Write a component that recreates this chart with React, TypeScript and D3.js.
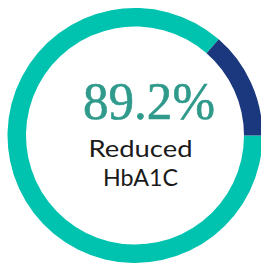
import React from "react";
import * as d3 from "d3";

// ring shares (teal runs clockwise from 3 o'clock)
const segments = ["Reduced", "Other"];
const shares = [86.4, 13.6];
const colors = ["#00c3af", "#1b377d"];

const headline = "89.2%";
const captionLines = ["Reduced", "HbA1C"];

const W = 261;
const H = 264;

const App = () => {
  const cx = 135;
  const cy = 135.5;
  const outerR = 127.5;
  const innerR = 109;

  const pie = d3
    .pie<number>()
    .sort(null)
    .startAngle(Math.PI / 2)
    .endAngle(Math.PI / 2 + 2 * Math.PI);
  const arcs = pie(shares);
  const arc = d3.arc<d3.PieArcDatum<number>>().innerRadius(innerR).outerRadius(outerR);

  return (
    <svg
      width={W}
      height={H}
      style={{ position: "fixed", left: 0, top: 0, background: "#fff" }}
    >
      <g transform={`translate(${cx},${cy})`}>
        {arcs.map((a, i) => (
          <path key={segments[i]} d={arc(a) || ""} fill={colors[i]} />
        ))}
      </g>
      <text
        x={149}
        y={118.5}
        textAnchor="middle"
        fontFamily="'Liberation Serif', serif"
        fontSize={52}
        fill="#2f9a8b"
        stroke="#2f9a8b"
        strokeWidth={0.6}
        textLength={132}
        lengthAdjust="spacingAndGlyphs"
      >
        {headline}
      </text>
      {captionLines.map((t, i) => (
        <text
          key={t}
          x={140.5}
          y={157 + i * 29}
          textAnchor="middle"
          fontFamily="Lato, sans-serif"
          fontSize={24}
          fill="#1a1a1a"
          textLength={i === 0 ? 104 : 75}
          lengthAdjust="spacingAndGlyphs"
        >
          {t}
        </text>
      ))}
    </svg>
  );
};

export default App;
